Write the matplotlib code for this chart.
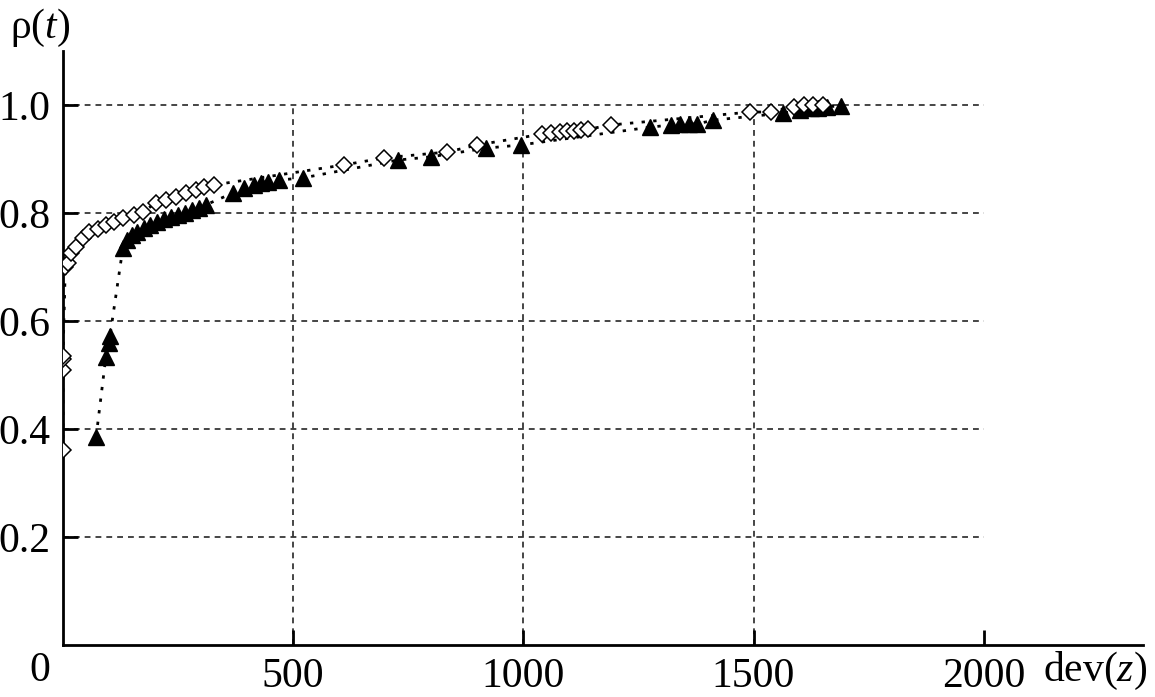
import matplotlib
matplotlib.use("Agg")
import matplotlib.pyplot as plt

plt.rcParams['font.family'] = ['Liberation Serif', 'DejaVu Serif']
plt.rcParams['mathtext.fontset'] = 'custom'
plt.rcParams['mathtext.rm'] = 'Liberation Serif'
plt.rcParams['mathtext.it'] = 'Liberation Serif:italic'

# open diamonds
dia_x = [0, 0, 0, 0, 5, 11, 17, 28, 43, 56, 75, 93, 111, 130, 154, 174, 202,
         224, 245, 267, 289, 306, 328, 610, 697, 835, 900, 1040, 1060, 1080,
         1095, 1110, 1125, 1140, 1190, 1493, 1537, 1587, 1610, 1630, 1650]
dia_y = [0.361, 0.509, 0.530, 0.536, 0.700, 0.707, 0.726, 0.737, 0.754, 0.765,
         0.770, 0.778, 0.783, 0.791, 0.796, 0.802, 0.819, 0.824, 0.830, 0.837,
         0.843, 0.848, 0.852, 0.889, 0.902, 0.913, 0.926, 0.946, 0.948, 0.950,
         0.951, 0.952, 0.953, 0.955, 0.963, 0.987, 0.987, 0.997, 1.0, 1.0, 1.0]

# filled triangles
tri_x = [72, 93, 100, 102, 130, 140, 150, 160, 175, 190, 205, 220, 235, 250,
         265, 280, 295, 310, 369, 393, 415, 430, 445, 469, 521, 727, 799, 918,
         994, 1276, 1320, 1340, 1360, 1378, 1413, 1565, 1600, 1625, 1640, 1660,
         1690]
tri_y = [0.386, 0.533, 0.559, 0.572, 0.735, 0.750, 0.760, 0.765, 0.772, 0.778,
         0.783, 0.788, 0.792, 0.797, 0.800, 0.805, 0.810, 0.815, 0.837, 0.846,
         0.852, 0.855, 0.858, 0.861, 0.865, 0.898, 0.904, 0.920, 0.926, 0.959,
         0.963, 0.965, 0.965, 0.965, 0.972, 0.985, 0.990, 0.995, 0.995, 0.997,
         0.998]

xticks = [500, 1000, 1500, 2000]
yticks = [0.2, 0.4, 0.6, 0.8, 1.0]

fig = plt.figure(figsize=(11.55, 6.97), dpi=100)
ax = fig.add_axes([63 / 1155, 52 / 697, 1080 / 1155, 594 / 697])
ax.set_xlim(0, 2346)
ax.set_ylim(0, 1.1)

# grid only inside [0,2000] x [0,1]
ax.hlines(yticks, 0, 2000, colors='0.15', linestyles=(0, (3.5, 3)), lw=1.2, zorder=1)
ax.vlines(xticks[:-1], 0, 1.0, colors='0.15', linestyles=(0, (3.5, 3)), lw=1.2, zorder=1)

ax.plot(tri_x, tri_y, color='black', ls=(0, (1.2, 3)), lw=2,
        marker='^', ms=11, mfc='black', mec='black', zorder=3)
ax.plot(dia_x, dia_y, color='black', ls=(0, (1.2, 3)), lw=2,
        marker='D', ms=8.5, mfc='white', mec='black', mew=1.1, zorder=4)

for s in ['top', 'right']:
    ax.spines[s].set_visible(False)
for s in ['left', 'bottom']:
    ax.spines[s].set_linewidth(2)

ax.set_xticks(xticks)
ax.set_yticks(yticks)
ax.set_yticklabels(['0.2', '0.4', '0.6', '0.8', '1.0'])
ax.tick_params(direction='in', length=11, width=2, labelsize=30, pad=9)

fig.text(40 / 1155, 1 - 671 / 697, '0', fontsize=30, ha='center', va='center')
fig.text(1095 / 1155, 1 - 671 / 697, 'dev($z$)', fontsize=30, ha='center', va='center')
fig.text(40 / 1155, 1 - 28 / 697, 'ρ($t$)', fontsize=30, ha='center', va='center')

fig.savefig('out.png', dpi=100)
